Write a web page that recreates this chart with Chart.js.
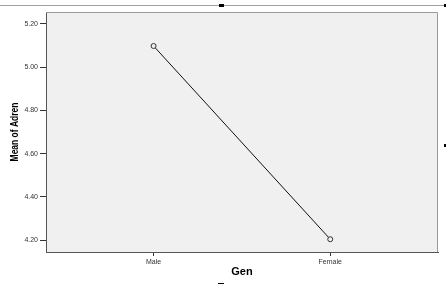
<!DOCTYPE html>
<html>
<head>
<meta charset="utf-8">
<script src="https://cdn.jsdelivr.net/npm/chart.js@4"></script>
<style>
  body { margin: 0; background: #fff; }
  #wrap { width: 446px; height: 285px; }
</style>
</head>
<body>
<div id="wrap"><canvas id="meanChart" width="446" height="285"></canvas></div>
<script>
// values
const genders = ['Male', 'Female'];
const meanAdren = [5.097, 4.205];
const yTickValues = [4.20, 4.40, 4.60, 4.80, 5.00, 5.20];
const yTitle = 'Mean of Adren';

// plot background, light frame on top/right, narrow y title and the little selection handles
const frame = {
    id: 'frame',
    beforeDraw(chart) {
        const { ctx, chartArea: a } = chart;
        ctx.save();
        ctx.fillStyle = '#f0f0f0';
        ctx.fillRect(a.left, a.top, a.right - a.left, a.bottom - a.top);
        ctx.restore();
    },
    afterDraw(chart) {
        const { ctx, chartArea: a, width, height } = chart;
        ctx.save();
        ctx.strokeStyle = '#9a9a9a';
        ctx.lineWidth = 1;
        ctx.beginPath();
        ctx.moveTo(a.left, a.top + 0.5);
        ctx.lineTo(a.right - 0.5, a.top + 0.5);
        ctx.lineTo(a.right - 0.5, a.bottom);
        ctx.stroke();

        // SPSS style narrow axis title
        ctx.translate(14.5, (a.top + a.bottom) / 2);
        ctx.rotate(-Math.PI / 2);
        ctx.scale(0.77, 1);
        ctx.fillStyle = '#000';
        ctx.font = 'bold 11px "Liberation Sans", Arial, sans-serif';
        ctx.textAlign = 'center';
        ctx.textBaseline = 'middle';
        ctx.fillText(yTitle, 0, 0);
        ctx.setTransform(1, 0, 0, 1, 0, 0);

        // outer output frame
        ctx.strokeStyle = '#a0a0a0';
        ctx.beginPath();
        ctx.moveTo(0, 5.5);
        ctx.lineTo(width, 5.5);
        ctx.stroke();
        ctx.fillStyle = '#000';
        ctx.fillRect(219, 4, 5, 3);
        ctx.fillRect(444, 4, 2, 3);
        ctx.fillRect(444, 144, 2, 3);
        ctx.fillRect(218, height - 2, 6, 1);
        ctx.restore();
    }
};

const ctx = document.getElementById('meanChart').getContext('2d');
new Chart(ctx, {
    type: 'line',
    data: {
        datasets: [{
            label: yTitle,
            data: meanAdren.map((v, i) => ({ x: i, y: v })),
            borderColor: '#111',
            borderWidth: 1,
            pointRadius: 2.5,
            pointBorderWidth: 1,
            pointBorderColor: '#333',
            pointBackgroundColor: '#f0f0f0',
            tension: 0
        }]
    },
    options: {
        responsive: false,
        animation: false,
        layout: { padding: { top: 12, right: 8, left: 0, bottom: 0 } },
        plugins: {
            legend: { display: false },
            tooltip: { enabled: false }
        },
        scales: {
            x: {
                type: 'linear',
                min: -0.609,
                max: 1.61,
                afterBuildTicks: scale => { scale.ticks = genders.map((g, i) => ({ value: i })); },
                afterFit: scale => { scale.height = 33; },
                ticks: {
                    callback: v => genders[v],
                    font: { family: 'Liberation Sans', size: 7 },
                    color: '#333',
                    padding: 2,
                    maxRotation: 0
                },
                grid: { drawOnChartArea: false, drawTicks: true, tickLength: 4, color: '#333' },
                border: { display: true, color: '#555', width: 1 },
                title: {
                    display: true,
                    text: 'Gen',
                    color: '#000',
                    font: { family: 'Liberation Sans', size: 11, weight: 'bold' },
                    padding: { top: 0, bottom: 6 }
                }
            },
            y: {
                min: 4.146,
                max: 5.254,
                afterBuildTicks: scale => { scale.ticks = yTickValues.map(v => ({ value: v })); },
                afterFit: scale => { scale.width = 46; },
                ticks: {
                    callback: v => v.toFixed(2),
                    font: { family: 'Liberation Sans', size: 7 },
                    color: '#333',
                    padding: 2
                },
                grid: { drawOnChartArea: false, drawTicks: true, tickLength: 6, color: '#333' },
                border: { display: true, color: '#555', width: 1 },
                title: { display: false }
            }
        }
    },
    plugins: [frame]
});
</script>
</body>
</html>
